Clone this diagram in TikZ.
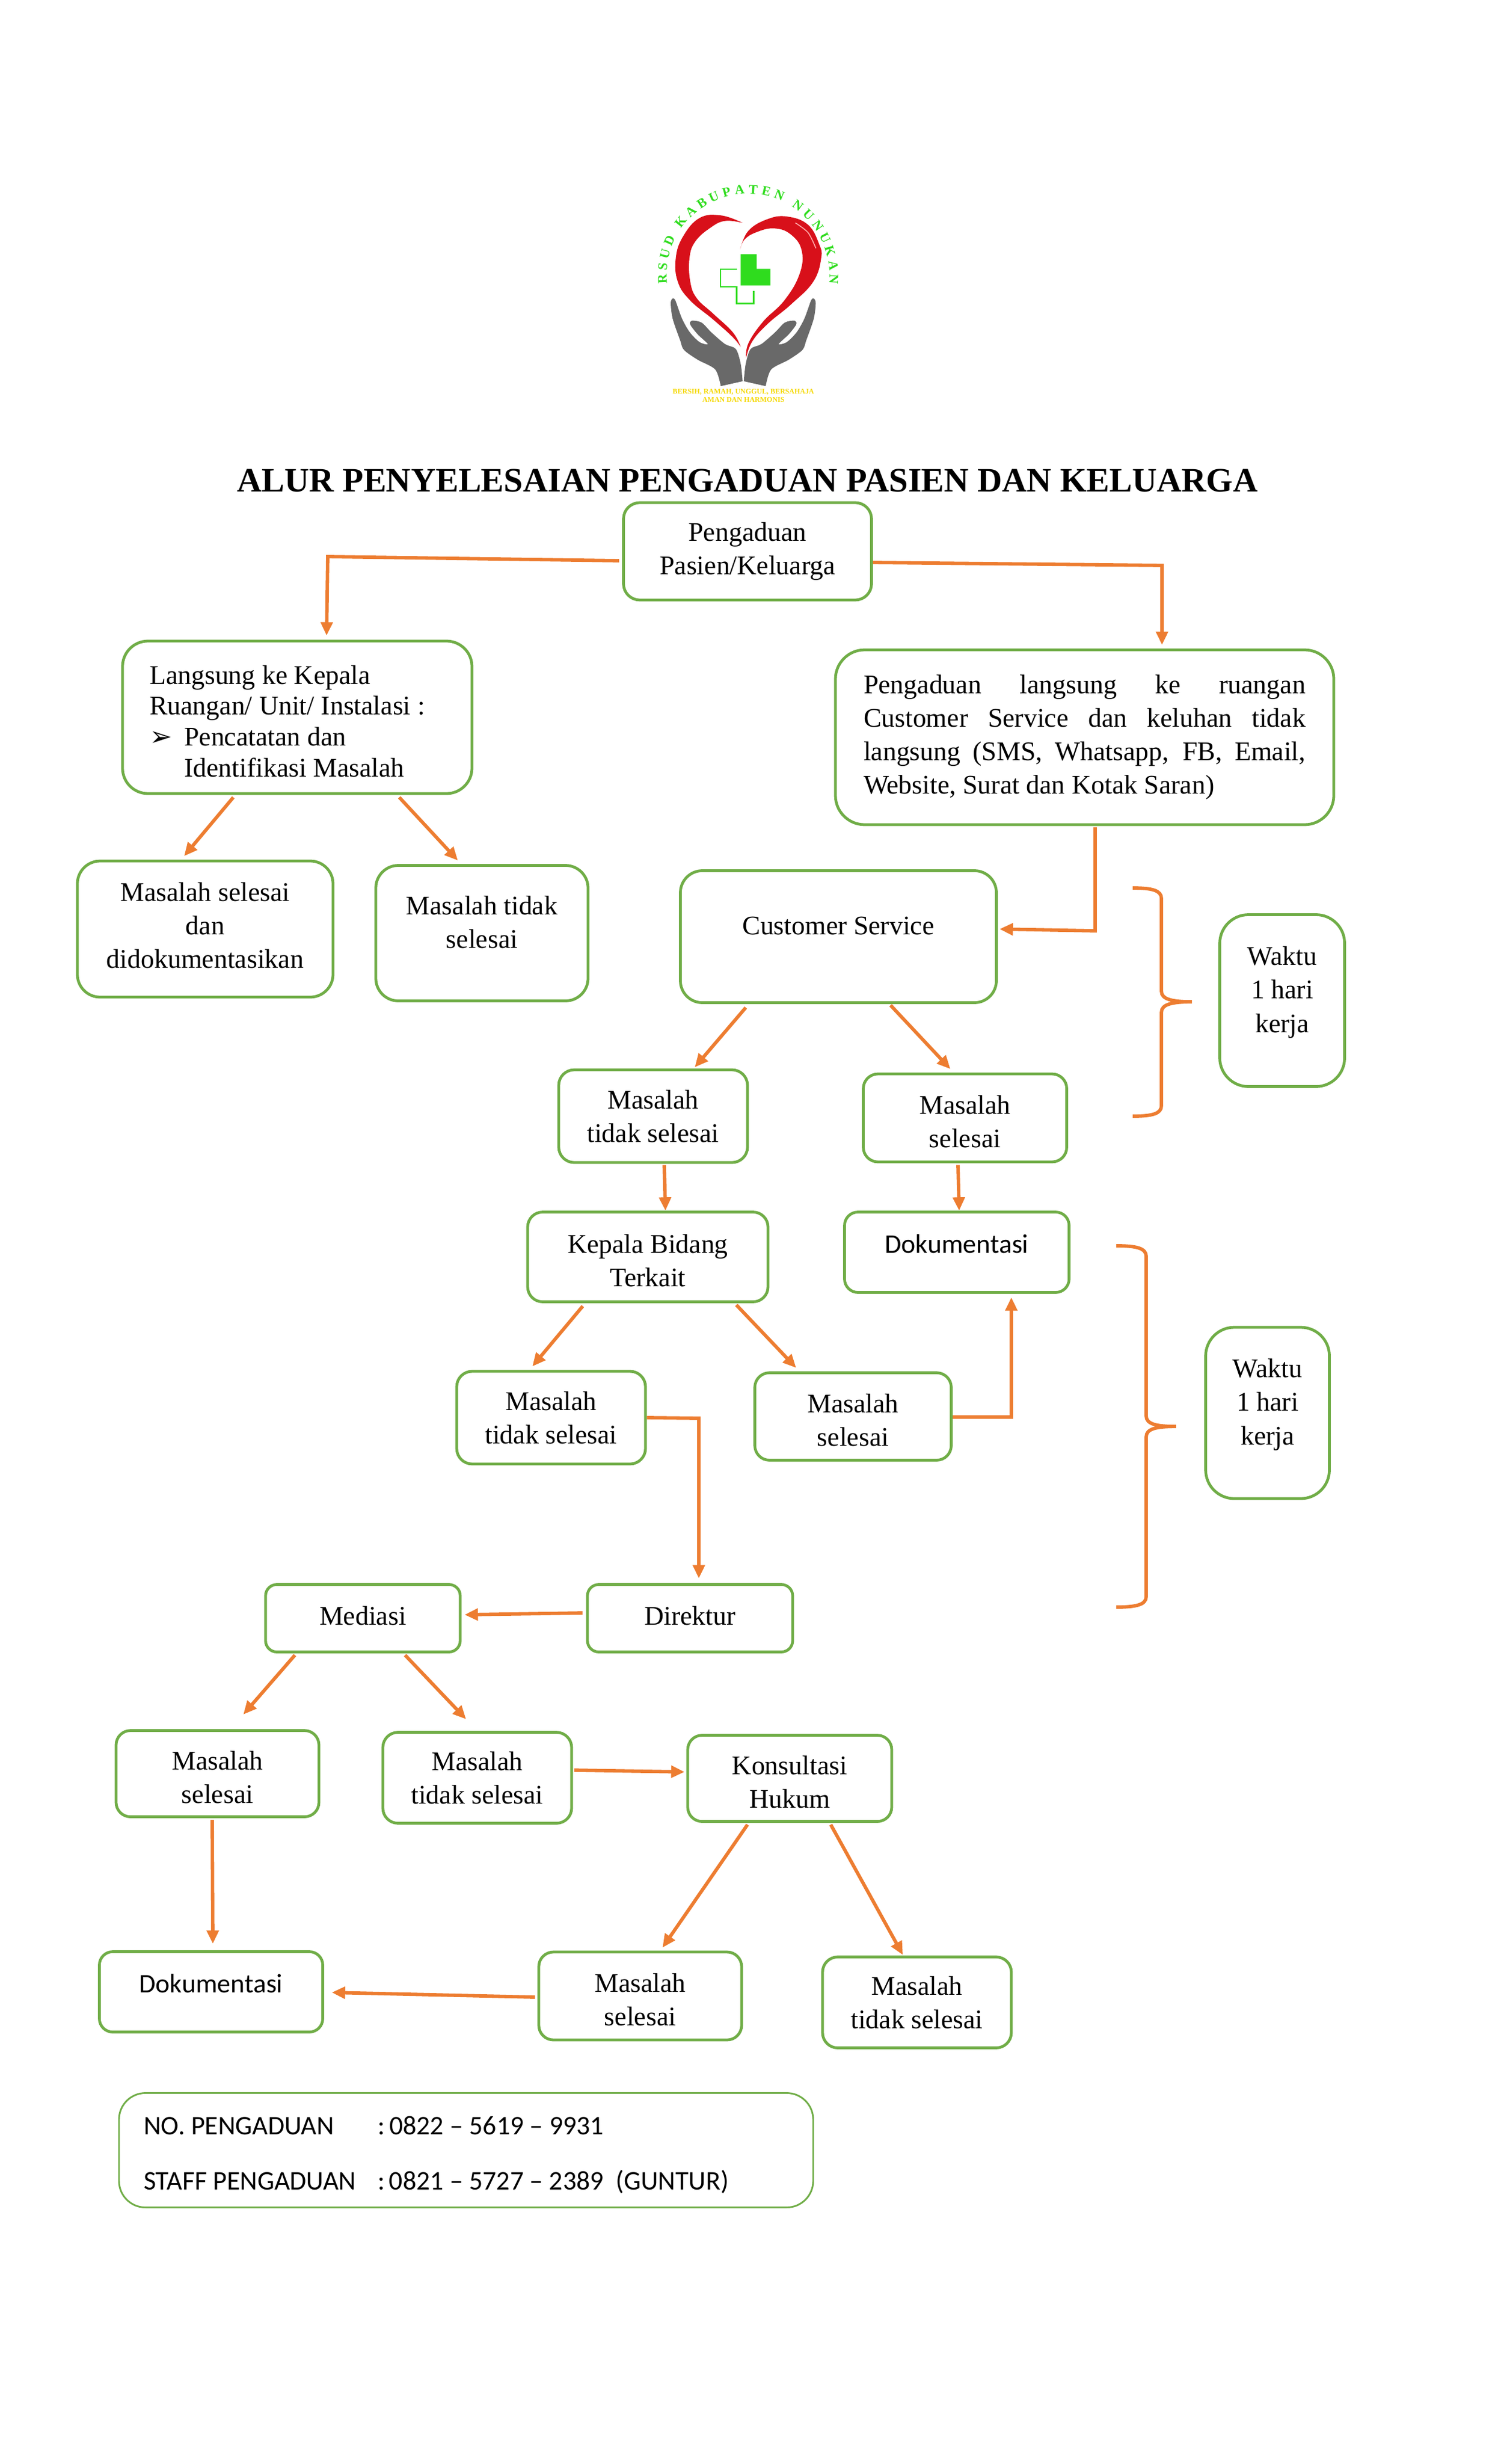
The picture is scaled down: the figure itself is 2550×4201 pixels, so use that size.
\documentclass[tikz,border=0pt]{standalone}
\usepackage{fontspec}
\setmainfont{Liberation Serif}
\newfontfamily\calibri{Carlito}
\newfontfamily\dejavu{DejaVu Sans}
\usetikzlibrary{arrows.meta,decorations.text}
\definecolor{boxgreen}{HTML}{70AD47}
\definecolor{floworange}{HTML}{ED7D31}
\definecolor{logogreen}{HTML}{2FDC1E}
\definecolor{logored}{HTML}{D8101A}
\definecolor{logogray}{HTML}{696969}
\definecolor{logoyellow}{HTML}{F5D800}
\newcommand{\pxu}{0.2409pt}
\newcommand{\naik}{\\[-4.6bp]\mbox{}}
\newcommand{\naikdok}{\\[-7bp]\mbox{}}
\newcommand{\turun}{\rule{0pt}{10.8bp}}
\tikzset{dims/.style 2 args={minimum width=#1*\pxu,minimum height=#2*\pxu,rounded corners=#2*\pxu/6}}
\begin{document}
\begin{tikzpicture}[x=0.2409pt,y=-0.2409pt]
\tikzstyle{alur} = [draw=boxgreen,line width=1.15pt,align=center,inner sep=0pt,font=\fontsize{11bp}{13.7bp}\selectfont];
\tikzstyle{dokumen} = [alur,font=\fontsize{11bp}{13.7bp}\calibri];
\tikzstyle{flow} = [draw=floworange,line width=1.4pt,-{Triangle[length=5.5pt,width=4.8pt]}];
\tikzstyle{kurung} = [draw=floworange,line width=1.4pt];
\useasboundingbox (0,0) rectangle (2550,4201);

% logo
\begin{scope}[shift={(1050,280)},scale=1/3]
\fill [logored] plot [smooth,tension=0.7] coordinates {(650,300) (540,262) (430,275) (345,370) (308,480) (318,600) (380,695) (500,795) (600,885) (640,935)}
  -- plot [smooth,tension=0.7] coordinates {(640,935) (600,860) (500,765) (415,685) (382,600) (378,480) (408,395) (485,325) (560,290) (650,300)} -- cycle;
\fill [logored] plot [smooth,tension=0.7] coordinates {(638,435) (680,340) (780,280) (880,268) (985,310) (1042,410) (1052,480) (1012,600) (900,715) (780,815) (700,905) (668,990)}
  -- plot [smooth,tension=0.7] coordinates {(668,990) (680,915) (755,805) (865,695) (942,560) (952,440) (895,358) (810,328) (720,348) (660,385) (638,435)} -- cycle;
\draw [red!35!white,line width=0.4pt] plot [smooth] coordinates {(920,300) (985,350) (1025,430)};
\fill [logogreen] (640,460) -- (722,460) -- (722,535) -- (792,535) -- (792,620) -- (640,620) -- cycle;
\draw [logogreen,line width=0.7pt] (620,537) -- (537,537) -- (537,627) -- (620,627) -- (620,713) -- (707,713) -- (707,648);
\foreach \sisi/\geser in {1/0,-1/1306}
  \fill [logogray,shift={(\geser,0)},xscale=\sisi] plot [smooth,tension=0.5] coordinates {(290,688) (282,710) (292,790) (330,900) (350,950) (420,1000) (510,1050) (538,1135)}
    -- (650,1110) -- plot [smooth,tension=0.5] coordinates {(650,1110) (640,1020) (615,945) (560,920) (490,860) (440,810) (390,800) (382,820) (420,870) (472,920) (430,910) (380,860) (340,790) (305,695) (290,688)} -- cycle;
\path [decorate,decoration={text along path,text align=fit to path,text={|\fontsize{5.4bp}{6bp}\selectfont\bfseries\color{logogreen}|RSUD KABUPATEN NUNUKAN}}]
  (263,612) -- (261,568) .. controls (261,338) and (448,151) .. (678,151) .. controls (908,151) and (1095,338) .. (1095,568) -- (1093,612);
\end{scope}
\node [text=logoyellow,font=\fontsize{2.95bp}{3.2bp}\bfseries\selectfont,inner sep=0pt] (motto1) at (1268,668) {BERSIH, RAMAH, UNGGUL, BERSAHAJA};
\node [text=logoyellow,font=\fontsize{2.95bp}{3.2bp}\bfseries\selectfont,inner sep=0pt] (motto2) at (1268,681) {AMAN DAN HARMONIS};

\node [font=\fontsize{14bp}{16bp}\bfseries\selectfont,inner sep=0pt] (judul) at (1275,819) {ALUR PENYELESAIAN PENGADUAN PASIEN DAN KELUARGA};

\node [alur,dims={423}{166}] (pengaduan) at (1275,940) {Pengaduan\\Pasien/Keluarga};
\node [alur,dims={596}{260},align=flush left,text width=504*\pxu,inner xsep=46*\pxu,font=\fontsize{11bp}{12.65bp}\selectfont] (langsung) at (507,1223) {\rule{0pt}{10.8bp}Langsung ke Kepala\\Ruangan/ Unit/ Instalasi :\\\makebox[14.2bp][l]{\dejavu ➢}Pencatatan dan\\\hspace*{14.2bp}Identifikasi Masalah};
\node [alur,dims={850}{298},align=justify,text width=754*\pxu,inner xsep=48*\pxu] (ruangan) at (1850,1257) {Pengaduan langsung ke ruangan\linebreak Customer Service dan keluhan tidak\linebreak langsung (SMS, Whatsapp, FB, Email,\linebreak Website, Surat dan Kotak Saran)};

\node [alur,dims={436}{232}] (selesaiA) at (350,1584) {Masalah selesai\\dan\\didokumentasikan\\[-10.5bp]\mbox{}};
\node [alur,dims={362}{231}] (tidakA) at (822,1591) {Masalah tidak\\selesai\naik};
\node [alur,dims={539}{225}] (cs) at (1430,1597) {Customer Service\naik};
\node [alur,dims={322}{158}] (tidakB) at (1114,1903) {Masalah\\tidak selesai};
\node [alur,dims={347}{150}] (selesaiB) at (1646,1906) {\turun Masalah\\selesai};
\node [alur,dims={213}{293}] (waktuA) at (2187,1706) {Waktu\\1 hari\\kerja\naik};

\node [alur,dims={410}{153}] (kepala) at (1105,2143) {\turun Kepala Bidang\\Terkait};
\node [dokumen,dims={383}{137}] (dokA) at (1632,2135) {Dokumentasi\naikdok};
\node [alur,dims={322}{158}] (tidakC) at (940,2417) {Masalah\\tidak selesai};
\node [alur,dims={335}{149}] (selesaiC) at (1455,2415) {\turun Masalah\\selesai};
\node [alur,dims={211}{292}] (waktuB) at (2162,2409) {Waktu\\1 hari\\kerja\naik};

\node [alur,dims={332}{115}] (mediasi) at (619,2759) {Mediasi\\[-11.6bp]\mbox{}};
\node [alur,dims={350}{115}] (direktur) at (1177,2759) {Direktur\\[-11.6bp]\mbox{}};
\node [alur,dims={346}{147}] (selesaiD) at (371,3024) {\turun Masalah\\selesai};
\node [alur,dims={322}{155}] (tidakD) at (814,3031) {Masalah\\tidak selesai};
\node [alur,dims={348}{147}] (konsultasi) at (1347,3032) {\turun Konsultasi\\Hukum};

\node [dokumen,dims={381}{137}] (dokB) at (360,3396) {Dokumentasi\naikdok};
\node [alur,dims={346}{150}] (selesaiE) at (1092,3403) {\turun Masalah\\selesai};
\node [alur,dims={322}{155}] (tidakE) at (1564,3414) {Masalah\\tidak selesai};

\node [draw=boxgreen,line width=0.7pt,rounded corners=45*\pxu,minimum height=195*\pxu,text width=1100*\pxu,inner xsep=42*\pxu,inner ysep=0pt,align=flush left,font=\fontsize{11bp}{22.5bp}\calibri] (kontak) at (795,3666)
  {\rule{0pt}{11.5bp}\makebox[95.9bp][l]{NO. PENGADUAN}:\hspace{1.7bp}0822 – 5619 – 9931\\\makebox[95.9bp][l]{STAFF PENGADUAN}:\hspace{1.7bp}0821 – 5727 – 2389\ \ (GUNTUR)};

\coordinate (belokKiri) at (559,949);
\coordinate (belokKanan) at (1982,964);
\coordinate (belokCs) at (1868,1587);
\coordinate (belokDok) at (1725,2416);
\coordinate (belokDir) at (1192,2418);

\draw [flow] ([shift={(-5,16)}]pengaduan.west) -- (belokKiri) -- ([shift={(50,-7)}]langsung.north);
\draw [flow] ([shift={(0,19)}]pengaduan.east) -- (belokKanan) -- ([shift={(132,-6)}]ruangan.north);
\draw [flow] ([shift={(-109,4)}]langsung.south) -- ([shift={(-36,-6)}]selesaiA.north);
\draw [flow] ([shift={(174,4)}]langsung.south) -- ([shift={(-41,-6)}]tidakA.north);
\draw [flow] ([shift={(18,2)}]ruangan.south) -- (belokCs) -- ([shift={(3,-13)}]cs.east);
\draw [flow] ([shift={(-158,6)}]cs.south) -- ([shift={(71,-2)}]tidakB.north);
\draw [flow] ([shift={(89,2)}]cs.south) -- ([shift={(-25,-6)}]selesaiB.north);
\draw [flow] ([shift={(19,2)}]tidakB.south) -- ([shift={(30,0)}]kepala.north);
\draw [flow] ([shift={(-12,3)}]selesaiB.south) -- ([shift={(4,0)}]dokA.north);
\draw [flow] ([shift={(-111,5)}]kepala.south) -- ([shift={(-32,-6)}]tidakC.north);
\draw [flow] ([shift={(151,3)}]kepala.south) -- ([shift={(-97,-6)}]selesaiC.north);
\draw [flow] ([shift={(0,1)}]selesaiC.east) -- (belokDok) -- ([shift={(93,6)}]dokA.south);
\draw [flow] (tidakC.east) -- (belokDir) -- ([shift={(15,-8)}]direktur.north);
\draw [flow] ([shift={(-6,-9)}]direktur.west) -- ([shift={(5,-6)}]mediasi.east);
\draw [flow] ([shift={(-116,3)}]mediasi.south) -- ([shift={(44,-25)}]selesaiD.north);
\draw [flow] ([shift={(72,3)}]mediasi.south) -- ([shift={(-19,-20)}]tidakD.north);
\draw [flow] ([shift={(2,-13)}]tidakD.east) -- ([shift={(-3,-11)}]konsultasi.west);
\draw [flow] ([shift={(-9,3)}]selesaiD.south) -- ([shift={(3,-11)}]dokB.north);
\draw [flow] ([shift={(-72,3)}]konsultasi.south) -- ([shift={(38,-5)}]selesaiE.north);
\draw [flow] ([shift={(70,3)}]konsultasi.south) -- ([shift={(-24,-1)}]tidakE.north);
\draw [flow] ([shift={(-4,2)}]selesaiE.west) -- ([shift={(13,1)}]dokB.east);

% kurung
\draw [kurung] (1932,1514) .. controls (1965,1514) and (1981,1518) .. (1981,1532) -- (1981,1690) .. controls (1981,1704) and (2000,1708) .. (2033,1708)
  .. controls (2000,1708) and (1981,1712) .. (1981,1726) -- (1981,1885) .. controls (1981,1899) and (1965,1903) .. (1932,1903);
\draw [kurung] (1904,2124) .. controls (1938,2124) and (1955,2128) .. (1955,2142) -- (1955,2414) .. controls (1955,2428) and (1972,2432) .. (2006,2432)
  .. controls (1972,2432) and (1955,2436) .. (1955,2450) -- (1955,2722) .. controls (1955,2736) and (1938,2740) .. (1904,2740);
\end{tikzpicture}
\end{document}
